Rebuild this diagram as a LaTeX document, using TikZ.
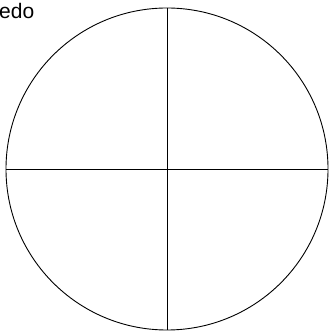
\documentclass[tikz,border=0pt]{standalone}
\usepackage{fontspec}
\setmainfont{Liberation Sans}
\usetikzlibrary{positioning}

\begin{document}
\begin{tikzpicture}[x=1pt,y=1pt,
    disk/.style={circle,draw=black,line width=0.9pt,minimum size=322pt,inner sep=0pt},
    axis/.style={draw=black,line width=0.9pt}]
  \useasboundingbox (0,0) rectangle (329,331);
  \node[anchor=base west,font=\fontsize{21}{24}\selectfont,inner sep=0pt] (word) at (-1,312) {edo};
  \node[disk] (wheel) at (167,162) {};
  \draw[axis] (wheel.north) -- (wheel.south);
  \draw[axis] (wheel.west) -- (wheel.east);
\end{tikzpicture}
\end{document}
